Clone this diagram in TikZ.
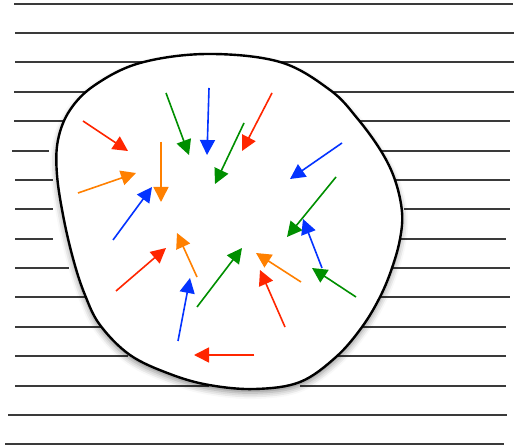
\documentclass[tikz,border=0pt]{standalone}
\usetikzlibrary{arrows.meta,shadows.blur}
\definecolor{cred}{HTML}{FF2600}
\definecolor{corange}{HTML}{FF8000}
\definecolor{cgreen}{HTML}{008F00}
\definecolor{cblue}{HTML}{0433FF}
\definecolor{cline}{HTML}{3A3A3A}
\tikzset{
  hline/.style={draw=cline, line width=1.2pt},
  blob/.style={draw=black, line width=2.4pt, fill=white,
    blur shadow={shadow xshift=0pt, shadow yshift=-4pt, shadow blur radius=6pt, shadow opacity=45}},
  arr/.style={line width=1.6pt, -{Triangle[length=15pt,width=15pt]}},
}
\begin{document}
\begin{tikzpicture}[x=1pt,y=-1pt]
\useasboundingbox (0,0) rectangle (514,446);
% horizontal lines
\foreach \y/\a/\b/\c/\d in {
  62/15/514/15/514, 92/14/85/330/514, 121/14/67/357/510, 151/12/49/381/510,
  180/15/53/395/510, 209/15/53/404/510, 239/15/53/400/506, 268/15/69/392/510,
  297/15/85/380/510, 327/15/103/363/506, 356/15/128/338/506, 386/15/209/300/506}{
  \draw[hline] (\a,\y) -- (\b,\y);
  \draw[hline] (\c,\y) -- (\d,\y);
}
\draw[hline] (14,4) -- (513,4);
\draw[hline] (15,33) -- (514,33);
\draw[hline] (8,415) -- (507,415);
\draw[hline] (5,444) -- (504,444);
% blob
\path[blob] plot[smooth cycle, tension=0.6] coordinates {
  (207,54) (280,62) (330,90) (357,118) (381,151) (395,180) (402,212) (400,239)
  (392,268) (380,297) (362,327) (336,357) (300,382) (255,389) (209,385)
  (170,374) (130,355) (100,325) (85,295) (74,262) (64,220) (57,175)
  (58,140) (70,110) (95,85) (140,63)};
% arrows
\coordinate (r1a) at (83,121);  \coordinate (r1b) at (128,151);
\coordinate (o1a) at (78,193);  \coordinate (o1b) at (136,173);
\coordinate (o2a) at (161,142); \coordinate (o2b) at (161,202);
\coordinate (g1a) at (166,93);  \coordinate (g1b) at (189,155);
\coordinate (b1a) at (209,88);  \coordinate (b1b) at (207,155);
\coordinate (g2a) at (244,123); \coordinate (g2b) at (215,184);
\coordinate (r2a) at (272,93);  \coordinate (r2b) at (242,151);
\coordinate (b2a) at (113,240); \coordinate (b2b) at (152,187);
\coordinate (b3a) at (342,143); \coordinate (b3b) at (290,179);
\coordinate (g3a) at (336,177); \coordinate (g3b) at (287,237);
\coordinate (b4a) at (322,268); \coordinate (b4b) at (303,219);
\coordinate (g4a) at (356,297); \coordinate (g4b) at (312,268);
\coordinate (r3a) at (116,291); \coordinate (r3b) at (166,248);
\coordinate (o3a) at (197,277); \coordinate (o3b) at (177,233);
\coordinate (b5a) at (178,341); \coordinate (b5b) at (190,278);
\coordinate (g5a) at (197,307); \coordinate (g5b) at (242,248);
\coordinate (o4a) at (301,282); \coordinate (o4b) at (256,253);
\coordinate (r4a) at (285,327); \coordinate (r4b) at (260,270);
\coordinate (r5a) at (254,355); \coordinate (r5b) at (194,355);
\foreach \n/\c in {r1/cred,o1/corange,o2/corange,g1/cgreen,b1/cblue,g2/cgreen,r2/cred,
  b2/cblue,b3/cblue,g3/cgreen,b4/cblue,g4/cgreen,r3/cred,o3/corange,b5/cblue,
  g5/cgreen,o4/corange,r4/cred,r5/cred}{
  \draw[arr, draw=\c, fill=\c] (\n a) -- (\n b);
}
\end{tikzpicture}
\end{document}
